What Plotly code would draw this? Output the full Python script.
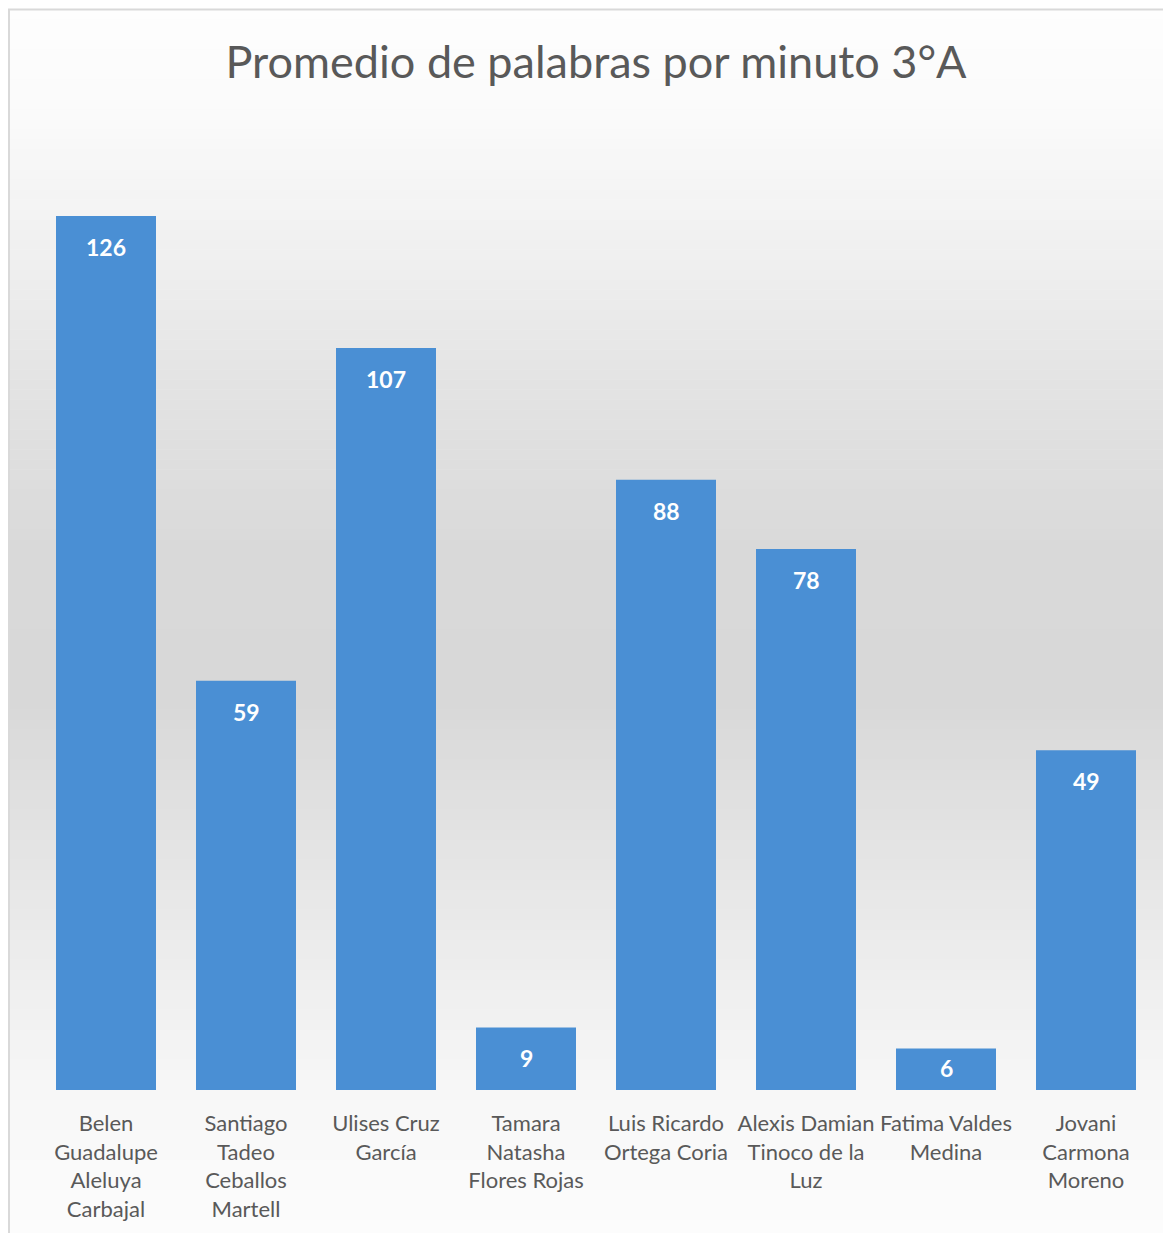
import plotly.graph_objects as go
import numpy as np

categories = [
    "Belen<br>Guadalupe<br>Aleluya<br>Carbajal",
    "Santiago<br>Tadeo<br>Ceballos<br>Martell",
    "Ulises Cruz<br>García",
    "Tamara<br>Natasha<br>Flores Rojas",
    "Luis Ricardo<br>Ortega Coria",
    "Alexis Damian<br>Tinoco de la<br>Luz",
    "Fatima Valdes<br>Medina",
    "Jovani<br>Carmona<br>Moreno",
]
values = [126, 59, 107, 9, 88, 78, 6, 49]
title_text = "Promedio de palabras por minuto 3°A"

OFF = 8  # page offset of the figure
W, H = 1163, 1225
ML, MR, MT, MB = 28, 15, 111, 143
PW = W - ML - MR
PH = H - MT - MB
YMAX = 140

def px_x(x):  # page px -> paper
    return (x - OFF - ML) / PW

def px_y(y):
    return (H - MB - (y - OFF)) / PH

FONT = "Lato"

fig = go.Figure()
fig.add_trace(go.Bar(
    x=categories, y=values,
    marker=dict(color="#4a8fd4", line=dict(width=0)),
    hoverinfo="skip",
))

# background gradient bands
stops_y = [9, 120, 250, 400, 550, 700, 850, 1000, 1090, 1233]
stops_g = [254, 250, 240, 226, 217, 216, 228, 240, 247, 252]
shapes = []
band_edges = np.linspace(9, 1240, 124)
for y0, y1 in zip(band_edges[:-1], band_edges[1:]):
    g = int(round(np.interp((y0 + y1) / 2, stops_y, stops_g)))
    shapes.append(dict(
        type="rect", xref="paper", yref="paper", layer="below",
        x0=px_x(7), x1=px_x(1180), y0=px_y(y1 + 0.5), y1=px_y(y0),
        fillcolor=f"rgb({g},{g},{g})", line=dict(width=0),
    ))
# frame border
shapes.append(dict(
    type="rect", xref="paper", yref="paper", layer="above",
    x0=px_x(OFF + 1), x1=px_x(1190), y0=px_y(1250), y1=px_y(OFF + 1.5),
    fillcolor="rgba(0,0,0,0)", line=dict(color="#d9d9d9", width=2),
))

annotations = []
for c, v in zip(categories, values):
    bar_px = v / YMAX * PH
    annotations.append(dict(
        x=c, y=v, xref="x", yref="y", text=f"<b>{v}</b>", showarrow=False,
        yanchor="middle", yshift=-min(31, bar_px / 2 - 1),
        font=dict(family=FONT, size=23, color="white"),
    ))

fig.update_layout(
    width=W, height=H,
    margin=dict(l=ML, r=MR, t=MT, b=MB),
    paper_bgcolor="white",
    plot_bgcolor="rgba(0,0,0,0)",
    bargap=40 / 140,
    showlegend=False,
    title=dict(
        text=title_text, x=(ML + PW / 2) / W, xanchor="center",
        y=1 - (62 - OFF) / H, yanchor="middle", yref="container",
        font=dict(family=FONT, size=45, color="#595959"),
    ),
    xaxis=dict(
        showgrid=False, showline=False, zeroline=False, ticks="",
        tickfont=dict(family=FONT, size=22, color="#595959"),
        ticklabelstandoff=18,
    ),
    yaxis=dict(
        range=[0, YMAX], visible=False, showgrid=False, zeroline=False,
    ),
    shapes=shapes,
    annotations=annotations,
)

fig.write_html("out.html")
